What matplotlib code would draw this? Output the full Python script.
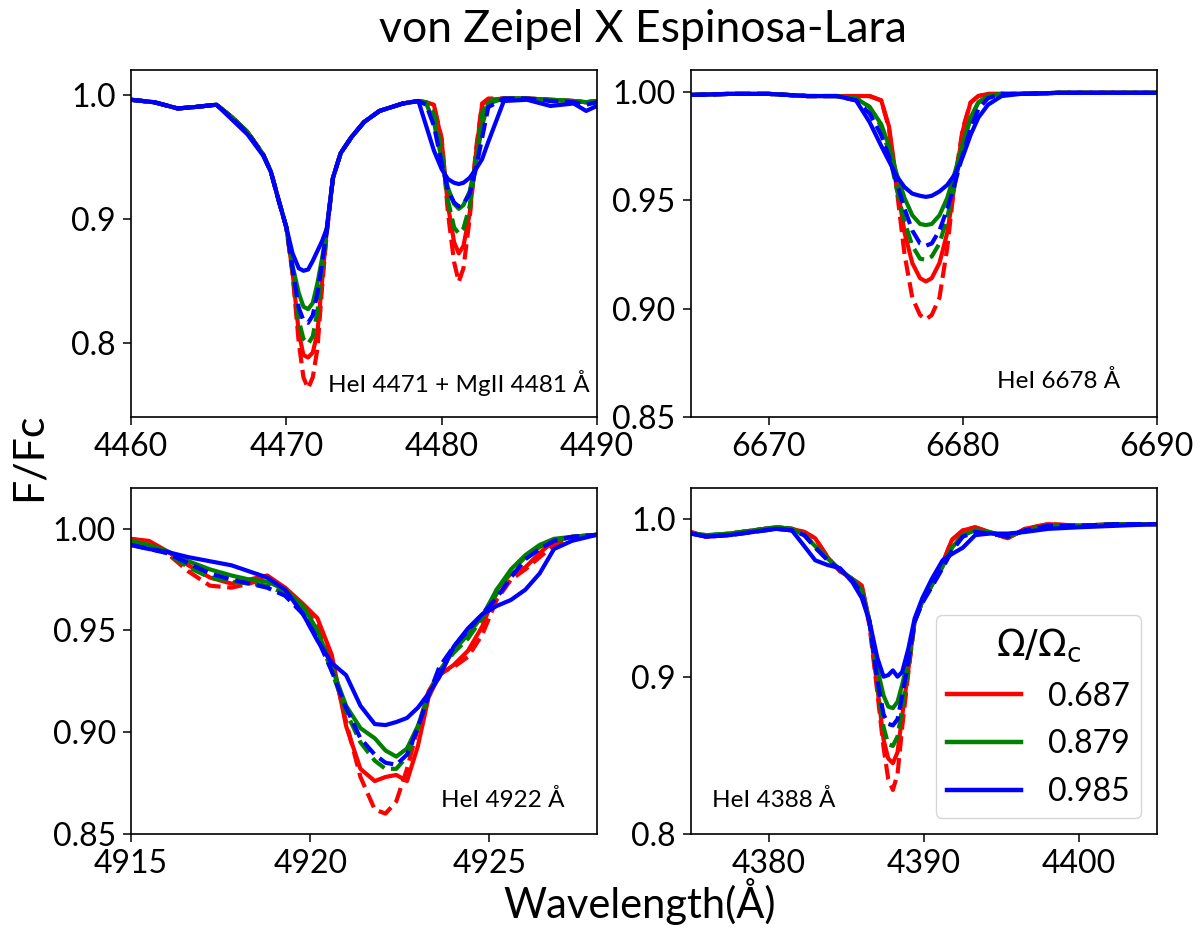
import matplotlib
matplotlib.use("Agg")
import matplotlib.pyplot as plt
from matplotlib.ticker import MultipleLocator, FormatStrFormatter

plt.rcParams['font.family'] = ['Lato', 'DejaVu Sans']
plt.rcParams['mathtext.fontset'] = 'dejavusans'

# ---- HeI 4471 + MgII 4481 ----
wl_4471 = [4460, 4461.5, 4463, 4464, 4465.5, 4466.5, 4467.5, 4468.5, 4469.0, 4469.5, 4470.0,
           4470.4, 4470.8, 4471.1, 4471.4, 4471.7, 4472.0, 4472.3, 4472.6,
           4473.0, 4473.5, 4474.2, 4475.0, 4476.0, 4477.5, 4478.5,
           4479.0, 4479.5, 4480.0, 4480.4, 4480.8, 4481.1, 4481.4, 4481.8, 4482.2, 4482.6, 4483.0,
           4484.0, 4485.5, 4487.0, 4488.5, 4489.3, 4490.0]
red_solid_4471 = [.996, .994, .989, .990, .992, .982, .970, .952, .938, .915, .893,
                  .857, .808, .790, .788, .792, .808, .850, .890,
                  .933, .953, .966, .978, .987, .993, .995,
                  .994, .992, .963, .911, .881, .872, .878, .904, .952, .992, .996,
                  .997, .997, .996, .995, .994, .995]
red_dash_4471 = [.996, .994, .989, .990, .992, .982, .970, .952, .938, .915, .893,
                 .855, .800, .772, .763, .772, .795, .845, .888,
                 .933, .953, .966, .978, .987, .993, .995,
                 .994, .991, .965, .905, .865, .849, .860, .900, .955, .993, .997,
                 .997, .997, .996, .995, .994, .995]
green_solid_4471 = [.996, .994, .989, .990, .992, .982, .970, .952, .938, .915, .893,
                    .862, .840, .829, .827, .832, .848, .868, .892,
                    .933, .953, .966, .978, .987, .993, .995,
                    .993, .978, .948, .925, .912, .908, .911, .922, .945, .975, .993,
                    .997, .997, .996, .995, .994, .995]
green_dash_4471 = [.996, .994, .989, .990, .992, .982, .970, .952, .938, .915, .893,
                   .858, .818, .803, .799, .805, .825, .858, .890,
                   .933, .953, .966, .978, .987, .993, .995,
                   .994, .985, .955, .915, .893, .888, .892, .910, .945, .985, .995,
                   .997, .997, .996, .995, .994, .995]
blue_solid_4471 = [.996, .994, .989, .990, .992, .980, .968, .951, .938, .915, .893,
                   .872, .860, .858, .859, .866, .874, .882, .892,
                   .933, .953, .966, .978, .987, .993, .995,
                   .975, .955, .940, .932, .929, .928, .929, .933, .940, .948, .962,
                   .995, .996, .991, .993, .987, .991]
blue_dash_4471 = [.996, .994, .989, .990, .992, .981, .969, .952, .938, .915, .893,
                  .860, .828, .818, .816, .822, .840, .864, .890,
                  .933, .953, .966, .978, .987, .993, .995,
                  .992, .975, .945, .923, .913, .910, .912, .920, .940, .965, .990,
                  .997, .997, .995, .994, .992, .994]

# ---- HeI 6678 ----
wl_6678 = [6666, 6668, 6670, 6672, 6673.5, 6674.5, 6675.2, 6675.8, 6676.2, 6676.6, 6677.0,
           6677.4, 6677.8, 6678.1, 6678.4, 6678.8, 6679.2, 6679.6, 6680.0, 6680.4, 6680.8,
           6681.3, 6682.0, 6683, 6685, 6687.5, 6690]
red_solid_6678 = [.9985, .999, .999, .998, .998, .998, .998, .996, .984, .958, .935,
                  .921, .914, .9125, .914, .921, .935, .958, .982, .995, .998,
                  .999, .999, .999, .9995, .9995, .9995]
red_dash_6678 = [.9985, .999, .999, .998, .998, .998, .998, .996, .983, .955, .925,
                 .905, .897, .895, .897, .905, .928, .960, .983, .995, .998,
                 .999, .999, .999, .9995, .9995, .9995]
green_solid_6678 = [.9985, .999, .999, .998, .998, .997, .993, .985, .975, .962, .951,
                    .943, .939, .9385, .939, .943, .951, .963, .976, .988, .995,
                    .998, .999, .999, .9995, .9995, .9995]
green_dash_6678 = [.9985, .999, .999, .998, .998, .997, .993, .984, .972, .955, .940,
                   .929, .923, .9225, .924, .930, .942, .958, .975, .988, .995,
                   .998, .999, .999, .9995, .9995, .9995]
blue_solid_6678 = [.9985, .999, .999, .998, .998, .996, .986, .975, .968, .961, .956,
                   .953, .952, .9515, .952, .954, .957, .962, .970, .980, .988,
                   .994, .998, .999, .9995, .9995, .9995]
blue_dash_6678 = [.9985, .999, .999, .998, .998, .996, .990, .980, .970, .958, .946,
                  .936, .930, .929, .930, .936, .946, .958, .971, .983, .992,
                  .997, .999, .999, .9995, .9995, .9995]

# ---- HeI 4922 ----
wl_4922 = [4915.0, 4915.5, 4916.0, 4916.6, 4917.2, 4917.8, 4918.3, 4918.8, 4919.3, 4919.8,
           4920.2, 4920.6, 4921.0, 4921.4, 4921.8, 4922.1, 4922.4, 4922.7, 4923.0, 4923.3,
           4923.6, 4924.0, 4924.4, 4924.8, 4925.2, 4925.6, 4926.0, 4926.4, 4926.8, 4927.3, 4928.0]
red_solid_4922 = [.995, .994, .989, .982, .976, .973, .975, .977, .971, .963,
                  .956, .938, .903, .882, .876, .878, .879, .876, .893, .917,
                  .928, .933, .940, .952, .970, .978, .981, .988, .994, .996, .997]
red_dash_4922 = [.995, .993, .988, .979, .972, .971, .973, .976, .970, .962,
                 .952, .935, .905, .878, .862, .860, .866, .882, .902, .920,
                 .929, .932, .937, .948, .965, .975, .980, .986, .992, .995, .997]
green_solid_4922 = [.994, .992, .989, .984, .980, .977, .975, .974, .970, .962,
                    .950, .932, .913, .902, .897, .891, .888, .892, .903, .918,
                    .930, .940, .948, .957, .970, .980, .987, .992, .995, .996, .997]
green_dash_4922 = [.993, .991, .988, .981, .976, .974, .973, .972, .968, .960,
                   .948, .930, .910, .895, .886, .882, .882, .888, .902, .918,
                   .930, .939, .946, .956, .968, .979, .986, .991, .994, .996, .997]
blue_solid_4922 = [.992, .990, .9886, .986, .984, .982, .979, .976, .970, .958,
                   .945, .934, .928, .913, .904, .9035, .905, .907, .912, .919,
                   .927, .942, .951, .958, .962, .965, .970, .978, .990, .994, .997]
blue_dash_4922 = [.992, .990, .988, .983, .978, .975, .973, .971, .967, .958,
                  .946, .930, .912, .897, .889, .885, .884, .889, .902, .918,
                  .932, .942, .950, .958, .966, .976, .985, .990, .994, .996, .997]

# ---- HeI 4388 ----
wl_4388 = [4375.0, 4376.0, 4377.5, 4379.0, 4380.5, 4381.5, 4382.3, 4383.0, 4383.8, 4384.6,
           4385.4, 4386.0, 4386.5, 4387.0, 4387.4, 4387.7, 4388.0, 4388.3, 4388.6, 4389.0,
           4389.4, 4389.9, 4390.5, 4391.2, 4391.8, 4392.5, 4393.3, 4394.2, 4395.4, 4396.5,
           4398.0, 4400.0, 4402.5, 4405.0]
red_solid_4388 = [.992, .989, .991, .993, .995, .994, .992, .988, .976, .967,
                  .962, .958, .935, .893, .860, .848, .845, .852, .875, .905,
                  .935, .948, .958, .972, .987, .993, .995, .992, .988, .994,
                  .997, .996, .997, .997]
red_dash_4388 = [.992, .989, .991, .993, .995, .994, .992, .988, .976, .967,
                 .962, .958, .932, .890, .855, .835, .828, .838, .868, .903,
                 .935, .948, .958, .972, .987, .993, .995, .992, .988, .994,
                 .997, .996, .997, .997]
green_solid_4388 = [.991, .990, .991, .993, .995, .994, .990, .983, .975, .968,
                    .962, .955, .935, .905, .888, .881, .880, .884, .895, .912,
                    .935, .948, .958, .970, .982, .990, .993, .992, .989, .993,
                    .996, .996, .997, .997]
green_dash_4388 = [.991, .990, .991, .993, .995, .994, .990, .983, .975, .968,
                   .962, .955, .935, .895, .868, .857, .856, .862, .880, .906,
                   .935, .948, .958, .970, .982, .990, .993, .992, .989, .993,
                   .996, .996, .997, .997]
blue_solid_4388 = [.991, .989, .990, .992, .994, .993, .983, .974, .971, .969,
                   .960, .950, .935, .912, .900, .901, .904, .900, .903, .918,
                   .937, .950, .962, .974, .978, .982, .990, .991, .991, .992,
                   .994, .995, .996, .997]
blue_dash_4388 = [.991, .989, .990, .992, .994, .993, .990, .982, .974, .968,
                  .961, .953, .934, .898, .876, .870, .869, .873, .888, .910,
                  .935, .947, .957, .969, .980, .989, .992, .991, .989, .993,
                  .996, .996, .997, .997]

omegas = ["0.687", "0.879", "0.985"]
colors = ["red", "green", "blue"]

panels = [
    (wl_4471, [red_solid_4471, green_solid_4471, blue_solid_4471],
     [red_dash_4471, green_dash_4471, blue_dash_4471]),
    (wl_6678, [red_solid_6678, green_solid_6678, blue_solid_6678],
     [red_dash_6678, green_dash_6678, blue_dash_6678]),
    (wl_4922, [red_solid_4922, green_solid_4922, blue_solid_4922],
     [red_dash_4922, green_dash_4922, blue_dash_4922]),
    (wl_4388, [red_solid_4388, green_solid_4388, blue_solid_4388],
     [red_dash_4388, green_dash_4388, blue_dash_4388]),
]

fig = plt.figure(figsize=(12, 9.4), dpi=100)
rects = [
    [0.1092, 0.5564, 0.3883, 0.3691],
    [0.5758, 0.5564, 0.3883, 0.3691],
    [0.1092, 0.1128, 0.3883, 0.3681],
    [0.5758, 0.1128, 0.3883, 0.3681],
]
xlims = [(4460, 4490), (6666, 6690), (4915, 4928), (4375, 4405)]
ylims = [(0.74, 1.02), (0.85, 1.01), (0.85, 1.02), (0.80, 1.02)]
xsteps = [10, 10, 5, 10]
ysteps = [0.1, 0.05, 0.05, 0.1]
yfmts = ["%.1f", "%.2f", "%.2f", "%.1f"]
notes = [u"HeI 4471 + MgII 4481 Å", u"HeI 6678 Å", u"HeI 4922 Å", u"HeI 4388 Å"]
note_pos = [(0.985, 0.098, "right"), (0.92, 0.104, "right"),
            (0.931, 0.098, "right"), (0.045, 0.098, "left")]

axes = []
for i, (wl, solids, dashes) in enumerate(panels):
    ax = fig.add_axes(rects[i])
    for c, s, d, om in zip(colors, solids, dashes, omegas):
        ax.plot(wl, s, color=c, lw=3, ls="-", label=om)
        ax.plot(wl, d, color=c, lw=3, ls="--")
    ax.set_xlim(*xlims[i])
    ax.set_ylim(*ylims[i])
    ax.xaxis.set_major_locator(MultipleLocator(xsteps[i]))
    ax.yaxis.set_major_locator(MultipleLocator(ysteps[i]))
    ax.yaxis.set_major_formatter(FormatStrFormatter(yfmts[i]))
    ax.tick_params(labelsize=23, length=6, width=1.1, pad=5)
    for sp in ax.spines.values():
        sp.set_linewidth(1.2)
    nx, ny, ha = note_pos[i]
    ax.text(nx, ny, notes[i], transform=ax.transAxes, ha=ha, va="center", fontsize=17.5)
    axes.append(ax)

leg = axes[3].legend(title=r"$\Omega/\Omega_{\rm c}$", fontsize=23, loc="lower right",
                     handlelength=2.3, handletextpad=0.85, borderaxespad=0.5,
                     labelspacing=0.55, borderpad=0.35)
leg.get_title().set_fontsize(27)
for line in leg.get_lines():
    line.set_linewidth(3.2)

fig.suptitle("von Zeipel X Espinosa-Lara", fontsize=32, x=0.536, y=0.99)
fig.text(0.024, 0.514, "F/Fc", rotation=90, fontsize=31, ha="center", va="center")
fig.text(0.533, 0.041, u"Wavelength(Å)", fontsize=30, ha="center", va="center")

fig.savefig("out.png", dpi=100)
plt.close(fig)
